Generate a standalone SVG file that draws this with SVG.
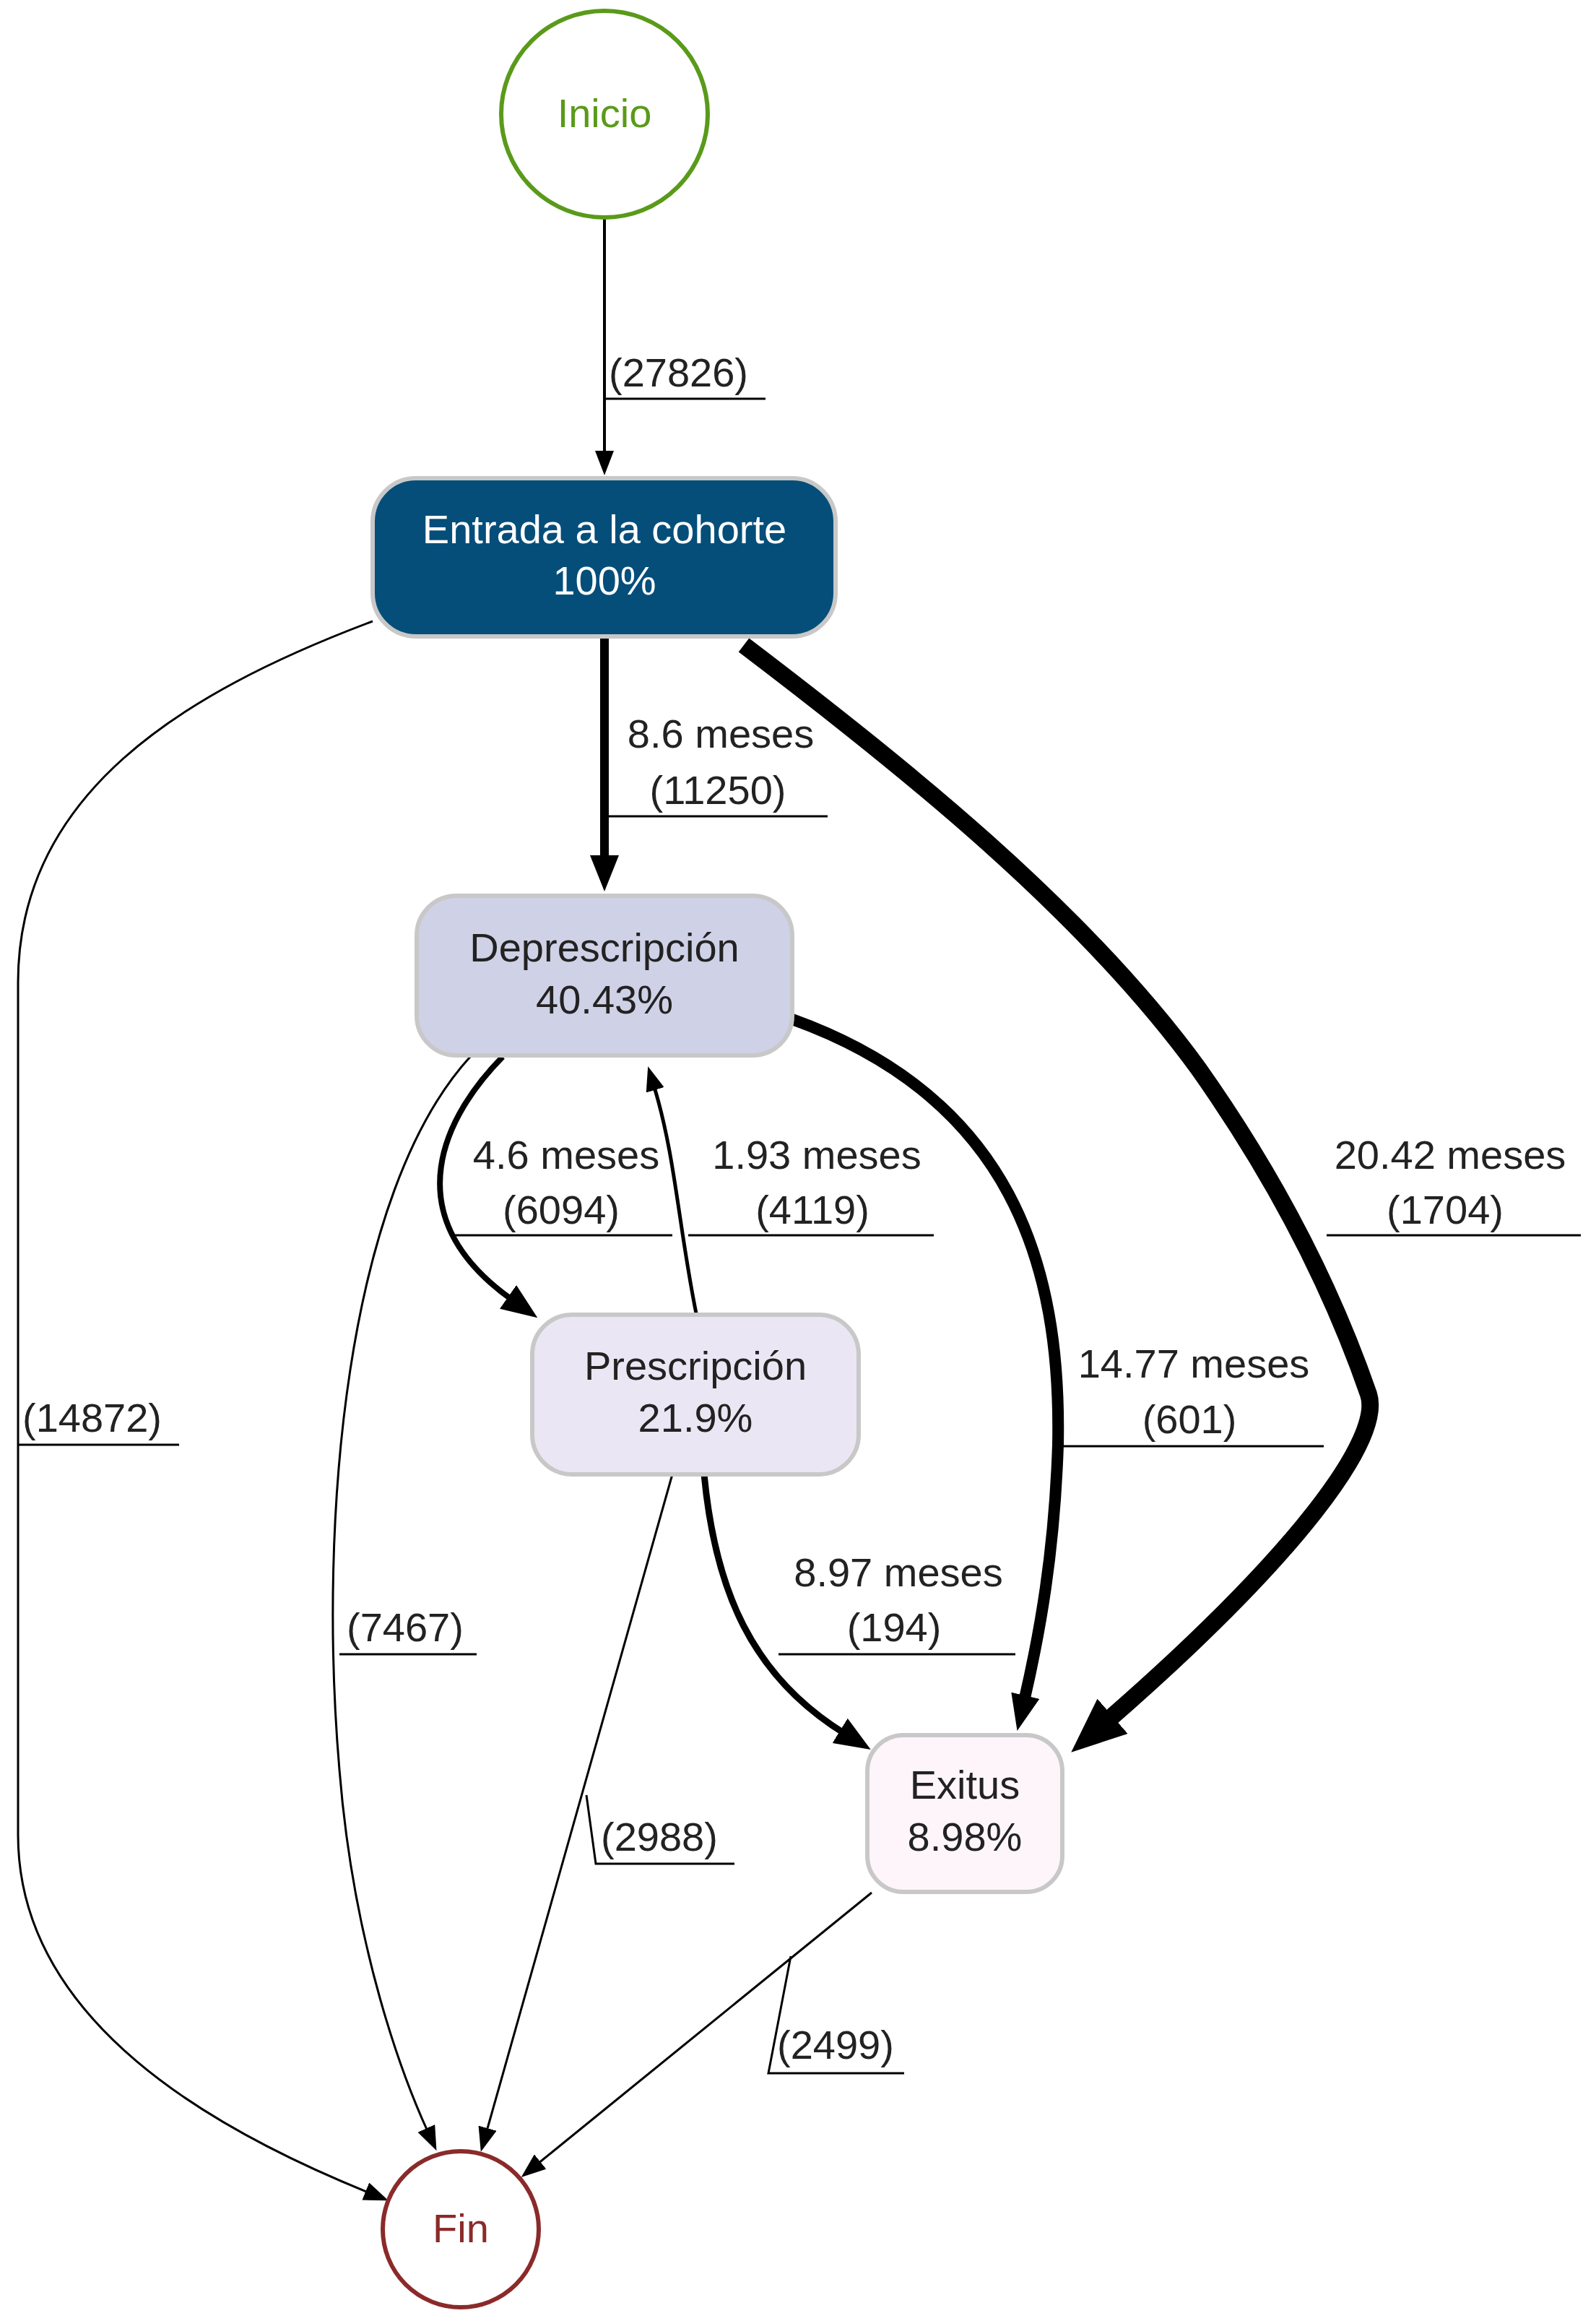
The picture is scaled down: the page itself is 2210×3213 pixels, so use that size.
<svg xmlns="http://www.w3.org/2000/svg" width="2210" height="3213" viewBox="0 0 2210 3213">
<style>
text{font-family:"Liberation Sans",Arial,sans-serif;font-size:56px;fill:#222;text-anchor:middle}
.lbl{text-anchor:start}
.e{fill:none;stroke:#000}
.u{stroke:#000;stroke-width:3;fill:none}
.box{stroke:#c8c8c8;stroke-width:6}
</style>
<defs>
<marker id="aS" markerUnits="userSpaceOnUse" markerWidth="34" markerHeight="26" refX="4" refY="13" orient="auto"><path d="M0,0 L34,13 L0,26 z" fill="#000"/></marker>
<marker id="aM" markerUnits="userSpaceOnUse" markerWidth="50" markerHeight="40" refX="8" refY="20" orient="auto"><path d="M0,0 L50,20 L0,40 z" fill="#000"/></marker>
<marker id="aL" markerUnits="userSpaceOnUse" markerWidth="76" markerHeight="64" refX="14" refY="32" orient="auto"><path d="M0,0 L76,32 L0,64 z" fill="#000"/></marker>
</defs>
<rect width="2210" height="3213" fill="#fff"/>
<g id="connectors">
<path class="e" stroke-width="4" d="M837,303 L837,628" marker-end="url(#aS)"/>
<path class="e" stroke-width="12" d="M837,881 L837,1192" marker-end="url(#aM)"/>
<path class="e" stroke-width="24" d="M1030,893 C1250,1060 1500,1260 1660,1480 C1780,1650 1850,1800 1895,1930 C1915,1990 1800,2150 1530,2385" marker-end="url(#aL)"/>
<path class="e" stroke-width="3" d="M516,860 C250,960 25,1100 25,1360 L25,2540 C25,2800 300,2950 510,3035" marker-end="url(#aS)"/>
<path class="e" stroke-width="8" d="M696,1463 C620,1540 540,1680 710,1800" marker-end="url(#aM)"/>
<path class="e" stroke-width="5" d="M964,1818 C940,1700 935,1600 906,1505" marker-end="url(#aS)"/>
<path class="e" stroke-width="16" d="M1097,1411 C1400,1520 1470,1750 1465,2000 C1460,2150 1440,2260 1418,2355" marker-end="url(#aM)"/>
<path class="e" stroke-width="3" d="M651,1463 C480,1650 440,2100 470,2450 C490,2700 560,2880 592,2950" marker-end="url(#aS)"/>
<path class="e" stroke-width="9" d="M975,2041 C990,2200 1040,2320 1170,2400" marker-end="url(#aM)"/>
<path class="e" stroke-width="3" d="M931,2041 L674,2950" marker-end="url(#aS)"/>
<path class="e" stroke-width="3" d="M1207,2620 L745,2995" marker-end="url(#aS)"/>
<text class="lbl" x="843" y="535">(27826)</text><path class="u" d="M837,552 L1060,552"/>
<text x="998" y="1035">8.6 meses</text><text x="994" y="1113">(11250)</text><path class="u" d="M837,1130 L1146,1130"/>
<text x="2008" y="1618">20.42 meses</text><text x="2001" y="1694">(1704)</text><path class="u" d="M1837,1710 L2189,1710"/>
<text class="lbl" x="31" y="1982">(14872)</text><path class="u" d="M25,2000 L248,2000"/>
<text x="784" y="1618">4.6 meses</text><text x="777" y="1694">(6094)</text><path class="u" d="M624,1710 L931,1710"/>
<text x="1131" y="1618">1.93 meses</text><text x="1125" y="1694">(4119)</text><path class="u" d="M953,1710 L1293,1710"/>
<text x="1653" y="1907">14.77 meses</text><text x="1647" y="1984">(601)</text><path class="u" d="M1465,2002 L1833,2002"/>
<text class="lbl" x="480" y="2272">(7467)</text><path class="u" d="M470,2290 L660,2290"/>
<text x="1244" y="2196">8.97 meses</text><text x="1238" y="2272">(194)</text><path class="u" d="M1078,2290 L1406,2290"/>
<text class="lbl" x="832" y="2562">(2988)</text><path class="u" d="M812,2485 L825,2580 L1017,2580"/>
<text class="lbl" x="1076" y="2850">(2499)</text><path class="u" d="M1095,2708 L1064,2870 L1252,2870"/>
</g>
<g id="inicio"><circle cx="837" cy="158" r="143" fill="#fff" stroke="#5a9a1a" stroke-width="6"/><text x="837" y="176" style="fill:#5a9a1a">Inicio</text></g>
<g id="entrada"><rect class="box" x="516" y="662" width="641" height="219" rx="60" fill="#054e7a"/><text x="837" y="752" style="fill:#fff">Entrada a la cohorte</text><text x="837" y="823" style="fill:#fff">100%</text></g>
<g id="deprescripcion"><rect class="box" x="577" y="1240" width="520" height="221" rx="55" fill="#cfd1e6"/><text x="837" y="1331">Deprescripción</text><text x="837" y="1403">40.43%</text></g>
<g id="prescripcion"><rect class="box" x="737" y="1820" width="452" height="221" rx="55" fill="#ebe6f3"/><text x="963" y="1910">Prescripción</text><text x="963" y="1982">21.9%</text></g>
<g id="exitus"><rect class="box" x="1201" y="2402" width="270" height="217" rx="50" fill="#fdf5fa"/><text x="1336" y="2490">Exitus</text><text x="1336" y="2562">8.98%</text></g>
<g id="fin"><circle cx="638" cy="3086" r="108" fill="#fff" stroke="#8b2a2a" stroke-width="6"/><text x="638" y="3104" style="fill:#8b2a2a">Fin</text></g>
</svg>
